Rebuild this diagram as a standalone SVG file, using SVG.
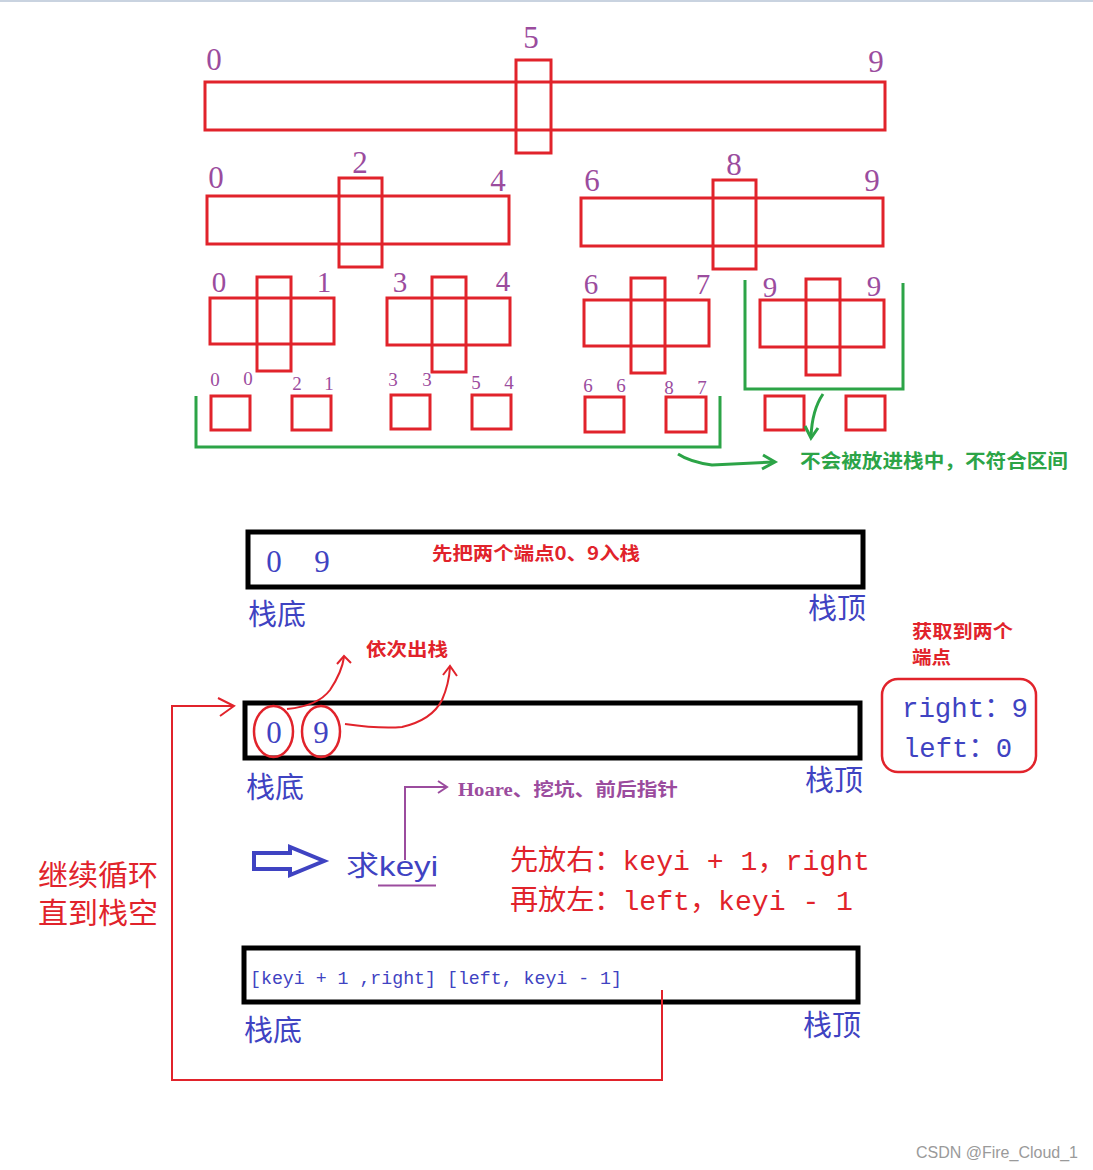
<svg xmlns="http://www.w3.org/2000/svg" width="1093" height="1170" viewBox="0 0 1093 1170">
<style>
.r{fill:none;stroke:#e1232b;stroke-width:3}
.k{fill:none;stroke:#000;stroke-width:5}
.g{fill:none;stroke:#2ca447;stroke-width:3}
.pn{font-family:"Liberation Serif",serif;fill:#9b4c9e;text-anchor:middle}
.big{font-size:31px}
.mid{font-size:29px}
.sm{font-size:19px}
.cj{font-family:"Noto Sans CJK SC",sans-serif}
.blue{fill:#3f43c2}
.red{fill:#e1232b}
.rb{fill:#e1232b;font-weight:bold}
.mono{font-family:"Liberation Mono","Noto Sans CJK SC",monospace}
.ln{fill:none;stroke-width:2}
</style>
<rect x="0" y="0" width="1093" height="2" fill="#c9d3e0"/>

<g id="tree-row1">
<rect class="r" x="205" y="82" width="680" height="48"/>
<rect class="r" x="516" y="60" width="35" height="93"/>
<text class="pn big" x="214" y="70">0</text>
<text class="pn big" x="531" y="48">5</text>
<text class="pn big" x="876" y="72">9</text>
</g>

<g id="tree-row2-left">
<rect class="r" x="207" y="196" width="302" height="48"/>
<rect class="r" x="339" y="178" width="43" height="89"/>
<text class="pn big" x="216" y="188">0</text>
<text class="pn big" x="360" y="173">2</text>
<text class="pn big" x="498" y="191">4</text>
</g>
<g id="tree-row2-right">
<rect class="r" x="581" y="198" width="302" height="48"/>
<rect class="r" x="713" y="180" width="43" height="89"/>
<text class="pn big" x="592" y="191">6</text>
<text class="pn big" x="734" y="175">8</text>
<text class="pn big" x="872" y="191">9</text>
</g>

<g id="tree-row3-a">
<rect class="r" x="210" y="298" width="124" height="46"/>
<rect class="r" x="257" y="277" width="34" height="94"/>
<text class="pn mid" x="219" y="292">0</text>
<text class="pn mid" x="324" y="292">1</text>
</g>
<g id="tree-row3-b">
<rect class="r" x="387" y="298" width="123" height="47"/>
<rect class="r" x="432" y="277" width="34" height="95"/>
<text class="pn mid" x="400" y="292">3</text>
<text class="pn mid" x="503" y="291">4</text>
</g>
<g id="tree-row3-c">
<rect class="r" x="584" y="300" width="125" height="46"/>
<rect class="r" x="631" y="278" width="34" height="95"/>
<text class="pn mid" x="591" y="294">6</text>
<text class="pn mid" x="703" y="294">7</text>
</g>
<g id="tree-row3-d">
<rect class="r" x="760" y="300" width="124" height="47"/>
<rect class="r" x="806" y="279" width="34" height="96"/>
<text class="pn mid" x="770" y="297">9</text>
<text class="pn mid" x="874" y="296">9</text>
</g>

<g id="tree-row4">
<rect class="r" x="211" y="396" width="39" height="34"/>
<rect class="r" x="292" y="396" width="39" height="34"/>
<rect class="r" x="391" y="395" width="39" height="34"/>
<rect class="r" x="472" y="395" width="39" height="34"/>
<rect class="r" x="585" y="397" width="39" height="35"/>
<rect class="r" x="666" y="397" width="40" height="35"/>
<rect class="r" x="765" y="396" width="39" height="34"/>
<rect class="r" x="846" y="396" width="39" height="34"/>
<text class="pn sm" x="215" y="386">0</text>
<text class="pn sm" x="248" y="385">0</text>
<text class="pn sm" x="297" y="390">2</text>
<text class="pn sm" x="329" y="390">1</text>
<text class="pn sm" x="393" y="386">3</text>
<text class="pn sm" x="427" y="386">3</text>
<text class="pn sm" x="476" y="389">5</text>
<text class="pn sm" x="509" y="389">4</text>
<text class="pn sm" x="588" y="392">6</text>
<text class="pn sm" x="621" y="392">6</text>
<text class="pn sm" x="669" y="394">8</text>
<text class="pn sm" x="702" y="394">7</text>
</g>

<g id="green-note">
<polyline class="g" points="196,396 196,447 720,447 720,396"/>
<polyline class="g" points="745,280 745,389 903,389 903,283"/>
<text class="cj" x="800" y="468" font-size="19" font-weight="bold" fill="#2ca447" textLength="268" lengthAdjust="spacingAndGlyphs">不会被放进栈中，不符合区间</text>
</g>

<g id="stack1">
<rect class="k" x="248" y="532" width="615" height="55"/>
<text class="blue" font-family="Liberation Serif,serif" font-size="31" x="274" y="572" text-anchor="middle">0</text>
<text class="blue" font-family="Liberation Serif,serif" font-size="31" x="322" y="572" text-anchor="middle">9</text>
<text class="cj rb" x="432" y="560" font-size="18" textLength="208" lengthAdjust="spacingAndGlyphs">先把两个端点0、9入栈</text>
<text class="cj blue" x="248" y="625" font-size="29">栈底</text>
<text class="cj blue" x="808" y="619" font-size="29">栈顶</text>
</g>

<g id="stack2">
<rect class="k" x="245" y="703" width="615" height="55"/>
<ellipse cx="273.5" cy="731.5" rx="19.5" ry="25.5" fill="none" stroke="#e1232b" stroke-width="2.5"/>
<ellipse cx="321" cy="731.5" rx="19" ry="25.5" fill="none" stroke="#e1232b" stroke-width="2.5"/>
<text class="blue" font-family="Liberation Serif,serif" font-size="31" x="274" y="743" text-anchor="middle">0</text>
<text class="blue" font-family="Liberation Serif,serif" font-size="31" x="321" y="743" text-anchor="middle">9</text>
<text class="cj rb" x="366" y="656" font-size="18" textLength="82" lengthAdjust="spacingAndGlyphs">依次出栈</text>
<text class="cj blue" x="246" y="798" font-size="29">栈底</text>
<text class="cj blue" x="805" y="791" font-size="29">栈顶</text>
</g>

<g id="endpoints">
<rect x="882" y="679" width="154" height="93" rx="16" fill="none" stroke="#e1232b" stroke-width="2.5"/>
<text class="cj rb" x="912" y="638" font-size="18" textLength="101" lengthAdjust="spacingAndGlyphs">获取到两个</text>
<text class="cj rb" x="912" y="664" font-size="18" textLength="39" lengthAdjust="spacingAndGlyphs">端点</text>
<text class="mono blue" x="902" y="717" font-size="27" textLength="126" lengthAdjust="spacingAndGlyphs">right：9</text>
<text class="mono blue" x="903" y="757" font-size="27" textLength="109" lengthAdjust="spacingAndGlyphs">left：0</text>
</g>

<g id="keyi">
<path d="M254,853 H290 V847 L324,861 L290,875 V869 H254 Z" fill="#fff" stroke="#3f43c2" stroke-width="4" stroke-linejoin="miter"/>
<text class="blue" x="346" y="876" font-size="28" font-family="Liberation Sans,Noto Sans CJK SC,sans-serif" textLength="92" lengthAdjust="spacingAndGlyphs">求keyi</text>
<line x1="378" y1="885.5" x2="436" y2="885.5" stroke="#9b4c9e" stroke-width="2"/>
<text x="458" y="796" font-size="18" font-weight="bold" fill="#9b4c9e" font-family="Liberation Serif,Noto Sans CJK SC,serif" textLength="220" lengthAdjust="spacingAndGlyphs">Hoare、挖坑、前后指针</text>
</g>

<g id="push-order">
<text class="mono red" x="510" y="870" font-size="28" textLength="360" lengthAdjust="spacingAndGlyphs">先放右：keyi + 1，right</text>
<text class="mono red" x="510" y="910" font-size="28" textLength="343" lengthAdjust="spacingAndGlyphs">再放左：left，keyi - 1</text>
</g>

<g id="loop-label">
<text class="cj red" x="38" y="886" font-size="29" textLength="120" lengthAdjust="spacingAndGlyphs">继续循环</text>
<text class="cj red" x="38" y="924" font-size="29" textLength="120" lengthAdjust="spacingAndGlyphs">直到栈空</text>
</g>

<g id="stack3">
<rect class="k" x="244" y="948" width="614" height="54"/>
<text class="mono blue" x="250" y="984" font-size="19" textLength="372" lengthAdjust="spacingAndGlyphs">[keyi + 1 ,right] [left, keyi - 1]</text>
<text class="cj blue" x="244" y="1041" font-size="29">栈底</text>
<text class="cj blue" x="803" y="1036" font-size="29">栈顶</text>
</g>

<g id="connectors">
<path class="g" d="M678,454 Q690,462 712,465 L774,462" stroke-width="2"/>
<polyline class="g" points="763,455 775,462 762,469" stroke-width="2"/>
<path class="g" d="M823,394 Q812,410 811,437" stroke-width="2"/>
<polyline class="g" points="805,426 811,438 818,428" stroke-width="2"/>
<path class="ln" stroke="#e1232b" d="M287,709 Q318,706 330,690 Q342,672 344,657"/>
<polyline class="ln" stroke="#e1232b" points="337,664 344,656 351,663"/>
<path class="ln" stroke="#e1232b" d="M345,724 Q380,729 402,727 Q432,720 442,700 Q449,684 450,667"/>
<polyline class="ln" stroke="#e1232b" points="443,675 450,666 457,676"/>
<polyline class="ln" stroke="#e1232b" points="662,990 662,1080 172,1080 172,706 234,706"/>
<polyline class="ln" stroke="#e1232b" points="218,698 234,706 220,716"/>
<polyline class="ln" stroke="#9b4c9e" points="405,860 405,787 446,787"/>
<polyline class="ln" stroke="#9b4c9e" points="438,781 447,787 438,793"/>
</g>

<text x="1078" y="1158" font-family="Liberation Sans,sans-serif" font-size="16" fill="#9a9a9a" text-anchor="end">CSDN @Fire_Cloud_1</text>
</svg>
